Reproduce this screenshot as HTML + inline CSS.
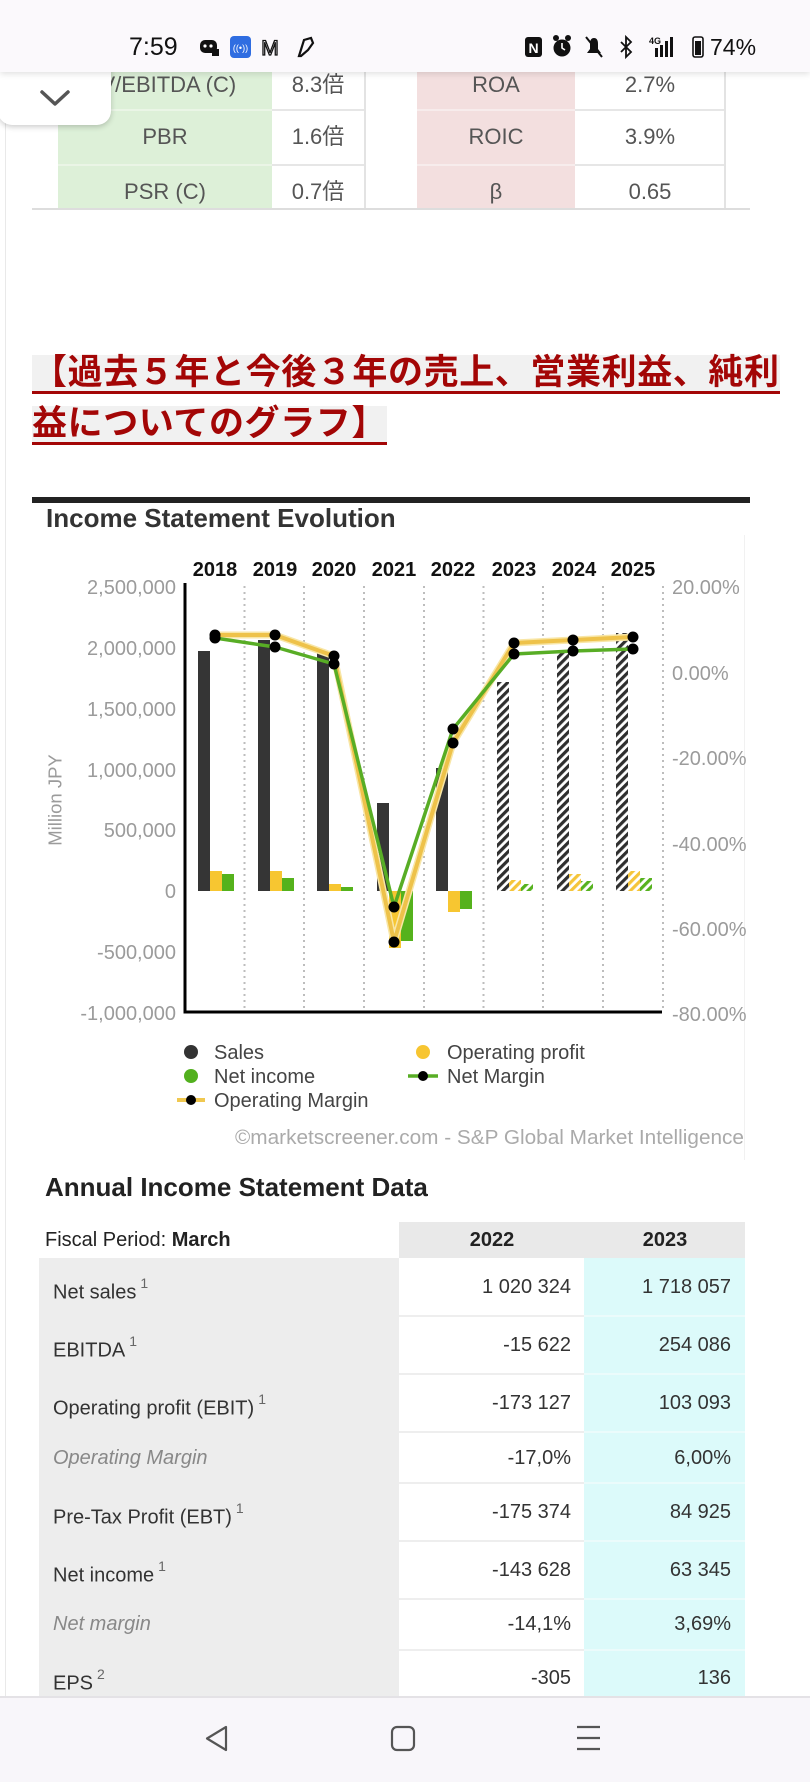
<!DOCTYPE html>
<html><head><meta charset="utf-8">
<style>
*{margin:0;padding:0;box-sizing:border-box}
html,body{width:810px;height:1782px;overflow:hidden;background:#fff}
body{position:relative;font-family:"Liberation Sans","Noto Sans CJK JP",sans-serif;}
.a{position:absolute}
.t{position:absolute;white-space:nowrap}
.tc{position:absolute;white-space:nowrap;text-align:center;width:200px;font-size:22px;line-height:26px;color:#555}
.lab{position:absolute;white-space:nowrap;left:53px;font-size:20px;line-height:24px;color:#333}
.lab sup{font-size:14px;color:#666;position:relative;top:-3px;margin-left:4px}
.it{font-style:italic;color:#888}
.g{color:#888}
.n1{position:absolute;white-space:nowrap;left:399px;width:172px;text-align:right;font-size:20px;line-height:24px;color:#333}
.n2{position:absolute;white-space:nowrap;left:584px;width:147px;text-align:right;font-size:20px;line-height:24px;color:#333}
.sepw{position:absolute;left:399px;width:185px;height:2px;background:#eeeeee}
.sepc{position:absolute;left:584px;width:161px;height:2px;background:#ebfbfb}
</style></head><body>

<!-- faint page left border -->
<div class="a" style="left:5px;top:72px;width:1px;height:1624px;background:#e9e9e9"></div>

<!-- top ratio table -->
<div class="a" style="left:58px;top:40px;width:214px;height:169px;background:#ddf0d8"></div>
<div class="a" style="left:417px;top:40px;width:158px;height:169px;background:#f3dfdf"></div>
<div class="a" style="left:58px;top:109px;width:214px;height:2px;background:#eaf5e6"></div>
<div class="a" style="left:58px;top:164px;width:214px;height:2px;background:#eaf5e6"></div>
<div class="a" style="left:417px;top:109px;width:158px;height:2px;background:#f7ecec"></div>
<div class="a" style="left:417px;top:164px;width:158px;height:2px;background:#f7ecec"></div>
<div class="a" style="left:272px;top:109px;width:93px;height:2px;background:#e6e6e6"></div>
<div class="a" style="left:272px;top:164px;width:93px;height:2px;background:#e6e6e6"></div>
<div class="a" style="left:575px;top:109px;width:151px;height:2px;background:#e6e6e6"></div>
<div class="a" style="left:575px;top:164px;width:151px;height:2px;background:#e6e6e6"></div>
<div class="a" style="left:364px;top:40px;width:2px;height:169px;background:#e3e3e3"></div>
<div class="a" style="left:724px;top:40px;width:2px;height:169px;background:#e3e3e3"></div>
<div class="a" style="left:32px;top:208px;width:718px;height:2px;background:#dddddd"></div>

<div class="tc" style="left:61px;top:72px">EV/EBITDA (C)</div>
<div class="tc" style="left:218px;top:72px">8.3倍</div>
<div class="tc" style="left:396px;top:72px">ROA</div>
<div class="tc" style="left:550px;top:72px">2.7%</div>
<div class="tc" style="left:65px;top:124px">PBR</div>
<div class="tc" style="left:218px;top:124px">1.6倍</div>
<div class="tc" style="left:396px;top:124px">ROIC</div>
<div class="tc" style="left:550px;top:124px">3.9%</div>
<div class="tc" style="left:65px;top:179px">PSR (C)</div>
<div class="tc" style="left:218px;top:179px">0.7倍</div>
<div class="tc" style="left:396px;top:179px">β</div>
<div class="tc" style="left:550px;top:179px">0.65</div>

<!-- chevron card -->
<div class="a" style="left:-2px;top:56px;width:113px;height:69px;background:#fff;border-radius:0 0 14px 14px;box-shadow:0 2px 6px rgba(0,0,0,.2)"></div>
<svg class="a" style="left:0;top:0" width="120" height="130"><polyline points="42,92 55,104 68,92" fill="none" stroke="#555" stroke-width="3.5" stroke-linecap="round" stroke-linejoin="round"/></svg>

<!-- status bar -->
<div class="a" style="left:0;top:0;width:810px;height:72px;background:#fbf9fc;box-shadow:0 2px 6px rgba(0,0,0,.12)"></div>
<div class="t" style="left:129px;top:33px;font-size:25px;line-height:28px;color:#111">7:59</div>
<svg class="a" style="left:0;top:0" width="810" height="72">
  <rect x="200" y="40" width="17" height="13" rx="5" fill="#111"/>
  <circle cx="205" cy="46" r="1.6" fill="#fff"/><circle cx="211" cy="46" r="1.6" fill="#fff"/>
  <rect x="212" y="49" width="7" height="7" fill="#111"/>
  <rect x="230" y="36" width="21" height="22" rx="4" fill="#2f6de1"/>
  <text x="240.5" y="51" font-size="9" fill="#fff" text-anchor="middle" font-family="Liberation Sans">((•))</text>
  <text x="270" y="55" font-size="21" fill="none" stroke="#111" stroke-width="1.3" text-anchor="middle" font-family="Liberation Sans">M</text>
  <polygon points="299,56 304,40 311,38 313,43 308,50 301,56" fill="none" stroke="#111" stroke-width="2.2"/>
  <rect x="525" y="37" width="17" height="20" rx="3" fill="#111"/>
  <text x="533.5" y="53" font-size="14" font-weight="bold" fill="#fff" text-anchor="middle" font-family="Liberation Sans">N</text>
  <circle cx="562" cy="48" r="8.5" fill="#111"/>
  <circle cx="556" cy="38" r="3" fill="#111"/><circle cx="568" cy="38" r="3" fill="#111"/>
  <polyline points="562,43 562,48 565,50" fill="none" stroke="#fff" stroke-width="1.6"/>
  <path d="M587 53 L601 53 L598 49 L598 44 Q598 38 594 38 Q590 38 590 44 L590 49 Z" fill="#111"/>
  <line x1="586" y1="37" x2="602" y2="57" stroke="#111" stroke-width="2"/>
  <polyline points="621,42 631,52 626,57 626,37 631,42 621,52" fill="none" stroke="#111" stroke-width="1.8"/>
  <text x="649" y="44" font-size="9" font-weight="bold" fill="#111" font-family="Liberation Sans">4G</text>
  <rect x="655" y="48" width="3" height="9" fill="#111"/><rect x="660" y="45" width="3" height="12" fill="#111"/>
  <rect x="665" y="41" width="3" height="16" fill="#111"/><rect x="670" y="37" width="3" height="20" fill="#111"/>
  <rect x="693" y="37" width="10" height="20" rx="2" fill="none" stroke="#111" stroke-width="1.6"/>
  <rect x="695" y="41" width="6" height="14" fill="#111"/>
</svg>
<div class="t" style="left:710px;top:34px;font-size:23px;line-height:26px;color:#111">74%</div>

<!-- Japanese heading -->
<div class="t" style="left:32px;top:355px;font-size:35px;line-height:36px;font-weight:bold;color:#a30606;background:#f1f1f1;border-bottom:3px solid #a30606;letter-spacing:0.6px">【過去５年と今後３年の売上、営業利益、純利</div>
<div class="t" style="left:32px;top:406px;font-size:35px;line-height:36px;font-weight:bold;color:#a30606;background:#f1f1f1;border-bottom:3px solid #a30606;letter-spacing:0.6px">益についてのグラフ】</div>

<!-- chart header -->
<div class="a" style="left:32px;top:497px;width:718px;height:6px;background:#222"></div>
<div class="t" style="left:46px;top:504px;font-size:26px;line-height:28px;font-weight:bold;color:#333">Income Statement Evolution</div>
<div class="a" style="left:744px;top:535px;width:1px;height:625px;background:#f1f1f1"></div>

<!-- chart -->
<svg class="a" style="left:0;top:480px" width="810" height="680" viewBox="0 480 810 680" font-family="Liberation Sans, sans-serif">
  <defs>
    <pattern id="hk" patternUnits="userSpaceOnUse" width="6" height="6" patternTransform="rotate(45)">
      <rect width="6" height="6" fill="#fff"/><rect width="3.2" height="6" fill="#2f2f2f"/>
    </pattern>
    <pattern id="hy" patternUnits="userSpaceOnUse" width="6" height="6" patternTransform="rotate(45)">
      <rect width="6" height="6" fill="#fff"/><rect width="3.2" height="6" fill="#f5c53a"/>
    </pattern>
    <pattern id="hg" patternUnits="userSpaceOnUse" width="6" height="6" patternTransform="rotate(45)">
      <rect width="6" height="6" fill="#fff"/><rect width="3.2" height="6" fill="#56b21f"/>
    </pattern>
  </defs>

  <!-- dotted grid -->
  <g stroke="#bdbdbd" stroke-width="2" stroke-dasharray="2 4">
    <line x1="244.5" y1="586" x2="244.5" y2="1010"/>
    <line x1="304" y1="586" x2="304" y2="1010"/>
    <line x1="364" y1="586" x2="364" y2="1010"/>
    <line x1="424" y1="586" x2="424" y2="1010"/>
    <line x1="483.5" y1="586" x2="483.5" y2="1010"/>
    <line x1="543" y1="586" x2="543" y2="1010"/>
    <line x1="603" y1="586" x2="603" y2="1010"/>
    <line x1="663" y1="586" x2="663" y2="1010"/>
  </g>

  <!-- year labels -->
  <g font-size="20" font-weight="bold" fill="#111" text-anchor="middle">
    <text x="215" y="576">2018</text><text x="275" y="576">2019</text>
    <text x="334" y="576">2020</text><text x="394" y="576">2021</text>
    <text x="453" y="576">2022</text><text x="514" y="576">2023</text>
    <text x="574" y="576">2024</text><text x="633" y="576">2025</text>
  </g>

  <!-- left axis labels -->
  <g font-size="20" fill="#9b9b9b" text-anchor="end">
    <text x="176" y="594">2,500,000</text>
    <text x="176" y="655">2,000,000</text>
    <text x="176" y="716">1,500,000</text>
    <text x="176" y="777">1,000,000</text>
    <text x="176" y="837">500,000</text>
    <text x="176" y="898">0</text>
    <text x="176" y="959">-500,000</text>
    <text x="176" y="1020">-1,000,000</text>
  </g>
  <text transform="translate(61.5,800) rotate(-90)" font-size="18.5" fill="#9b9b9b" text-anchor="middle">Million JPY</text>

  <!-- right axis labels -->
  <g font-size="20" fill="#9b9b9b">
    <text x="672" y="594">20.00%</text>
    <text x="672" y="680">0.00%</text>
    <text x="672" y="765">-20.00%</text>
    <text x="672" y="851">-40.00%</text>
    <text x="672" y="936">-60.00%</text>
    <text x="672" y="1021">-80.00%</text>
  </g>

  <!-- sales bars -->
  <g fill="#353535">
    <rect x="198" y="651" width="12" height="240"/>
    <rect x="258" y="640" width="12" height="251"/>
    <rect x="317" y="653" width="12" height="238"/>
    <rect x="377" y="803" width="12" height="88"/>
    <rect x="436" y="768" width="12" height="123"/>
  </g>
  <rect x="497" y="682" width="12" height="209" fill="url(#hk)"/>
  <rect x="557" y="653" width="12" height="238" fill="url(#hk)"/>
  <rect x="616" y="633" width="12" height="258" fill="url(#hk)"/>
  <!-- operating profit bars -->
  <g fill="#f7c631">
    <rect x="210" y="871" width="12" height="20"/>
    <rect x="270" y="871" width="12" height="20"/>
    <rect x="329" y="884" width="12" height="7"/>
    <rect x="389" y="891" width="12" height="57"/>
    <rect x="448" y="891" width="12" height="21"/>
  </g>
  <rect x="509" y="880" width="12" height="11" fill="url(#hy)"/>
  <rect x="569" y="874" width="12" height="17" fill="url(#hy)"/>
  <rect x="628" y="871" width="12" height="20" fill="url(#hy)"/>
  <!-- net income bars -->
  <g fill="#55b21c">
    <rect x="222" y="874" width="12" height="17"/>
    <rect x="282" y="878" width="12" height="13"/>
    <rect x="341" y="887" width="12" height="4"/>
    <rect x="401" y="891" width="12" height="50"/>
    <rect x="460" y="891" width="12" height="18"/>
  </g>
  <rect x="521" y="884" width="12" height="7" fill="url(#hg)"/>
  <rect x="581" y="881" width="12" height="10" fill="url(#hg)"/>
  <rect x="640" y="878" width="12" height="13" fill="url(#hg)"/>

  <!-- axes -->
  <line x1="185" y1="583" x2="185" y2="1013.5" stroke="#000" stroke-width="3"/>
  <line x1="183.5" y1="1012" x2="662" y2="1012" stroke="#000" stroke-width="3"/>

  <!-- margin lines -->
  <polyline points="215,635 275,635 334,656 394,942 453,743 514,643 573,640 633,637" fill="none" stroke="#f8e6a6" stroke-width="7" stroke-linejoin="round"/>
  <polyline points="215,635 275,635 334,656 394,942 453,743 514,643 573,640 633,637" fill="none" stroke="#eec24a" stroke-width="4" stroke-linejoin="round"/>
  <polyline points="215,638 275,647 334,664 394,907 453,729 514,654 573,651 633,649" fill="none" stroke="#58ad25" stroke-width="3.5" stroke-linejoin="round"/>
  <g fill="#000">
    <circle cx="215" cy="635" r="5.5"/><circle cx="275" cy="635" r="5.5"/><circle cx="334" cy="656" r="5.5"/>
    <circle cx="394" cy="942" r="5.5"/><circle cx="453" cy="743" r="5.5"/><circle cx="514" cy="643" r="5.5"/>
    <circle cx="573" cy="640" r="5.5"/><circle cx="633" cy="637" r="5.5"/>
    <circle cx="215" cy="638" r="5.5"/><circle cx="275" cy="647" r="5.5"/><circle cx="334" cy="664" r="5.5"/>
    <circle cx="394" cy="907" r="5.5"/><circle cx="453" cy="729" r="5.5"/><circle cx="514" cy="654" r="5.5"/>
    <circle cx="573" cy="651" r="5.5"/><circle cx="633" cy="649" r="5.5"/>
  </g>

  <!-- legend -->
  <circle cx="191" cy="1052" r="7" fill="#333"/>
  <circle cx="191" cy="1076" r="7" fill="#52b01e"/>
  <line x1="177" y1="1100" x2="205" y2="1100" stroke="#f0c850" stroke-width="4"/>
  <circle cx="191" cy="1100" r="5" fill="#000"/>
  <circle cx="423" cy="1052" r="7" fill="#f7c531"/>
  <line x1="408" y1="1076" x2="438" y2="1076" stroke="#58ad25" stroke-width="3.5"/>
  <circle cx="423" cy="1076" r="5" fill="#000"/>
  <g font-size="20" fill="#444">
    <text x="214" y="1059">Sales</text>
    <text x="214" y="1083">Net income</text>
    <text x="214" y="1107">Operating Margin</text>
    <text x="447" y="1059">Operating profit</text>
    <text x="447" y="1083">Net Margin</text>
  </g>
  <text x="235" y="1144" font-size="20" fill="#aaaaaa" textLength="509" lengthAdjust="spacingAndGlyphs">©marketscreener.com - S&amp;P Global Market Intelligence</text>
</svg>

<!-- Annual table -->
<div class="t" style="left:45px;top:1172px;font-size:26px;line-height:30px;font-weight:bold;color:#222">Annual Income Statement Data</div>
<div class="a" style="left:399px;top:1222px;width:346px;height:36px;background:#e9e9e9"></div>
<div class="a" style="left:39px;top:1258px;width:360px;height:440px;background:#ededed"></div>
<div class="a" style="left:584px;top:1258px;width:161px;height:440px;background:#dcfafa"></div>
<div class="sepw" style="top:1315px"></div><div class="sepc" style="top:1315px"></div>
<div class="sepw" style="top:1373px"></div><div class="sepc" style="top:1373px"></div>
<div class="sepw" style="top:1431px"></div><div class="sepc" style="top:1431px"></div>
<div class="sepw" style="top:1482px"></div><div class="sepc" style="top:1482px"></div>
<div class="sepw" style="top:1540px"></div><div class="sepc" style="top:1540px"></div>
<div class="sepw" style="top:1598px"></div><div class="sepc" style="top:1598px"></div>
<div class="sepw" style="top:1649px"></div><div class="sepc" style="top:1649px"></div>

<div class="t" style="left:45px;top:1228px;font-size:20px;line-height:24px;color:#222">Fiscal Period: <b>March</b></div>
<div class="t" style="left:442px;top:1228px;width:100px;text-align:center;font-size:20px;line-height:24px;font-weight:bold;color:#222">2022</div>
<div class="t" style="left:615px;top:1228px;width:100px;text-align:center;font-size:20px;line-height:24px;font-weight:bold;color:#222">2023</div>

<div class="lab" style="top:1274px">Net sales<sup>1</sup></div>
<div class="n1" style="top:1275px">1 020 324</div><div class="n2" style="top:1275px">1 718 057</div>
<div class="lab" style="top:1332px">EBITDA<sup>1</sup></div>
<div class="n1" style="top:1333px">-15 622</div><div class="n2" style="top:1333px">254 086</div>
<div class="lab" style="top:1390px">Operating profit (EBIT)<sup>1</sup></div>
<div class="n1" style="top:1391px">-173 127</div><div class="n2" style="top:1391px">103 093</div>
<div class="lab it" style="top:1446px">Operating Margin</div>
<div class="n1 g" style="top:1446px">-17,0%</div><div class="n2 g" style="top:1446px">6,00%</div>
<div class="lab" style="top:1499px">Pre-Tax Profit (EBT)<sup>1</sup></div>
<div class="n1" style="top:1500px">-175 374</div><div class="n2" style="top:1500px">84 925</div>
<div class="lab" style="top:1557px">Net income<sup>1</sup></div>
<div class="n1" style="top:1558px">-143 628</div><div class="n2" style="top:1558px">63 345</div>
<div class="lab it" style="top:1612px">Net margin</div>
<div class="n1 g" style="top:1612px">-14,1%</div><div class="n2 g" style="top:1612px">3,69%</div>
<div class="lab" style="top:1665px">EPS<sup>2</sup></div>
<div class="n1" style="top:1666px">-305</div><div class="n2" style="top:1666px">136</div>

<!-- nav bar -->
<div class="a" style="left:0;top:1696px;width:810px;height:86px;background:#f8f6fa;border-top:2px solid #e4e2e6"></div>
<svg class="a" style="left:0;top:1696px" width="810" height="86">
  <polygon points="226,31 226,54 207,42.5" fill="none" stroke="#555" stroke-width="2.2" stroke-linejoin="round"/>
  <rect x="392" y="31" width="22" height="23" rx="5" fill="none" stroke="#555" stroke-width="2.2"/>
  <line x1="577" y1="31" x2="600" y2="31" stroke="#555" stroke-width="2.2"/>
  <line x1="577" y1="42" x2="600" y2="42" stroke="#555" stroke-width="2.2"/>
  <line x1="577" y1="53" x2="600" y2="53" stroke="#555" stroke-width="2.2"/>
</svg>
</body></html>
